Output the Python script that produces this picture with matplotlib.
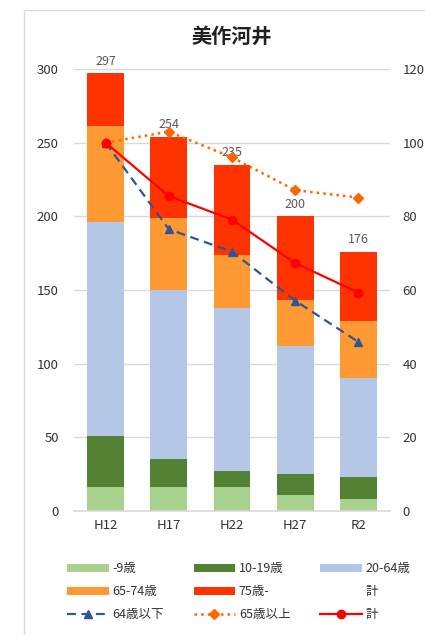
import matplotlib.pyplot as plt
import numpy as np
from matplotlib.patches import Rectangle

plt.rcParams['font.family'] = ['Noto Sans CJK JP', 'DejaVu Sans']

# data
years = ['H12', 'H17', 'H22', 'H27', 'R2']
age_0_9 = [16, 16, 16, 11, 8]
age_10_19 = [35, 19, 11, 14, 15]
age_20_64 = [145, 115, 111, 87, 67]
age_65_74 = [65, 49, 36, 31, 39]
age_75_up = [36, 55, 61, 57, 47]
totals = [297, 254, 235, 200, 176]

# index values (H12 = 100), right axis
idx_under64 = [100, 76.5, 70.4, 57.1, 45.9]
idx_over65 = [100, 103.0, 96.0, 87.1, 85.1]
idx_total = [100, 85.5, 79.1, 67.3, 59.3]

bar_names = ['-9歳', '10-19歳', '20-64歳', '65-74歳', '75歳-']
bar_colors = ['#A9D18E', '#548235', '#B4C7E7', '#FF9933', '#FF3300']

fig = plt.figure(figsize=(4.25, 6.35), dpi=100)
ax = fig.add_axes([74 / 425, 1 - 511 / 635, 316 / 425, 442 / 635])

x = np.arange(len(years))
width = 0.585
bottom = np.zeros(len(years))
handles = []
for vals, name, col in zip([age_0_9, age_10_19, age_20_64, age_65_74, age_75_up], bar_names, bar_colors):
    b = ax.bar(x, vals, width, bottom=bottom, color=col, label=name, zorder=2)
    handles.append(b)
    bottom += np.array(vals)

# invisible total series, used for the data labels
tot = ax.bar(x, totals, width, color='none', edgecolor='none', label='計', zorder=1)
handles.append(tot)
ax.bar_label(tot, labels=[str(v) for v in totals], padding=4, fontsize=9, color='#595959')

ax.set_xlim(-0.5, 4.5)
ax.set_ylim(0, 300)
ax.set_yticks(range(0, 301, 50))
ax.set_xticks(x)
ax.set_xticklabels(years)
ax.grid(axis='y', color='#D9D9D9', linewidth=1, zorder=0)
ax.set_axisbelow(True)
for s in ['top', 'right', 'left']:
    ax.spines[s].set_visible(False)
ax.spines['bottom'].set_color('#D9D9D9')
ax.spines['bottom'].set_linewidth(1.2)
ax.tick_params(axis='both', length=0, labelsize=9.5, colors='#333333')
ax.tick_params(axis='y', pad=11)
ax.tick_params(axis='x', pad=6)

ax2 = ax.twinx()
l1, = ax2.plot(x, idx_under64, color='#2F5597', linestyle='--', linewidth=1.6,
               marker='^', markersize=6, label='64歳以下', dashes=(4, 2.5))
l2, = ax2.plot(x, idx_over65, color='#FF6600', linestyle=':', linewidth=1.8,
               marker='D', markersize=5, label='65歳以上')
l3, = ax2.plot(x, idx_total, color='#FF0000', linestyle='-', linewidth=1.6,
               marker='o', markersize=6, label='計')
ax2.set_ylim(0, 120)
ax2.set_yticks(range(0, 121, 20))
for s in ['top', 'right', 'left', 'bottom']:
    ax2.spines[s].set_visible(False)
ax2.tick_params(axis='y', length=0, labelsize=9.5, colors='#333333', pad=9)

fig.text(232 / 425, 1 - 36 / 635, '美作河井', ha='center', va='center',
         fontsize=14.5, fontweight='bold', color='#222222')

# legend, row-major order
handles += [l1, l2, l3]
labels = bar_names + ['計', '64歳以下', '65歳以上', '計']
order = [0, 3, 6, 1, 4, 7, 2, 5, 8]
fig.legend([handles[i] for i in order], [labels[i] for i in order], ncol=3,
           loc='upper left', bbox_to_anchor=(56 / 425, 1 - 551 / 635),
           frameon=False, fontsize=9, handlelength=3.3, handletextpad=0.3,
           columnspacing=2.4, labelspacing=0.8, labelcolor='#333333')

# chart area border (left and top edges visible)
fig.patches.append(Rectangle((24 / 425, -0.1), 1.0, 1.1 - 10 / 635, transform=fig.transFigure,
                             fill=False, edgecolor='#D9D9D9', linewidth=1))

plt.savefig('out.png', dpi=100)
